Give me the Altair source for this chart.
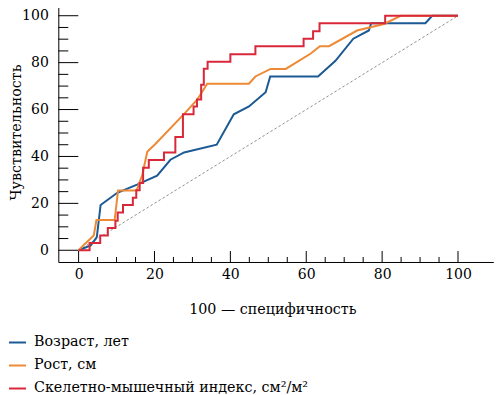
import altair as alt
import pandas as pd

# ---------------- data ----------------
series_names = ["Возраст, лет", "Рост, см", "Скелетно-мышечный индекс, см²/м²"]
series_colors = ["#1b5a94", "#ee8a35", "#d8283a"]

age_x = [0, 3.2, 4.8, 5.8, 10.2, 15.4, 20.7, 24.2, 27.8, 36.4, 40.9, 44.9, 49.3, 50.5,
         63.1, 67.7, 72.4, 76.5, 77.1, 91.4, 93.2, 100]
age_y = [0, 2.1, 5.6, 19.3, 24.5, 28.0, 31.8, 38.6, 41.7, 45.0, 58.0, 61.3, 67.4, 74.1,
         74.1, 80.8, 90.2, 93.7, 96.8, 96.8, 100, 100]

height_x = [0, 1.5, 4.0, 4.7, 9.5, 10.4, 15.3, 16.8, 18.1, 20.3, 28.2, 31.3, 33.9, 44.9,
            46.6, 50.6, 54.6, 61.2, 63.6, 66.0, 73.4, 80.5, 84.9, 100]
height_y = [0, 2.5, 6.3, 12.9, 12.9, 25.5, 25.5, 32.2, 42.0, 45.4, 58.8, 64.3, 71.0, 71.0,
            74.1, 77.3, 77.3, 83.9, 87.0, 87.0, 93.7, 96.5, 100, 100]

smi_x = [0, 2.9, 2.9, 5.7, 5.7, 7.7, 7.7, 9.7, 9.7, 10.3, 10.3, 11.7, 11.7, 14.3, 14.3,
         15.2, 15.2, 16.1, 16.1, 17.0, 17.0, 18.5, 18.5, 22.5, 22.5, 25.5, 25.5, 27.5,
         27.5, 30.3, 30.3, 31.2, 31.2, 32.3, 32.3, 33.0, 33.0, 34.0, 34.0, 40.0, 40.0,
         46.6, 46.6, 59.3, 59.3, 61.8, 61.8, 63.5, 63.5, 80.8, 80.8, 100]
smi_y = [0, 0, 3.1, 3.1, 6.3, 6.3, 9.5, 9.5, 12.6, 12.6, 16.1, 16.1, 19.3, 19.3, 22.4,
         22.4, 25.6, 25.6, 28.7, 28.7, 35.2, 35.2, 38.5, 38.5, 41.7, 41.7, 48.3, 48.3,
         58.0, 58.0, 61.3, 61.3, 64.3, 64.3, 70.6, 70.6, 77.4, 77.4, 80.4, 80.4, 83.6,
         83.6, 87.0, 87.0, 90.2, 90.2, 93.4, 93.4, 96.8, 96.8, 100, 100]

diag_x = [0, 100]
diag_y = [0, 100]

x_major = [0, 20, 40, 60, 80, 100]
x_minor = [5, 10, 15, 25, 30, 35, 45, 50, 55, 65, 70, 75, 85, 90, 95]
y_major = [0, 20, 40, 60, 80, 100]
y_minor = [5, 10, 15, 25, 30, 35, 45, 50, 55, 65, 70, 75, 85, 90, 95]

# ---------------- tables ----------------
rows = []
for name, xs, ys in zip(series_names, [age_x, height_x, smi_x], [age_y, height_y, smi_y]):
    for i, (xv, yv) in enumerate(zip(xs, ys)):
        rows.append({"series": name, "x": xv, "y": yv, "order": i})
df = pd.DataFrame(rows)
diag_df = pd.DataFrame({"x": diag_x, "y": diag_y})

FONT = "DejaVu Serif"
LBL = 14
TXT = 14.3
W, H = 435, 258
TOP = 4  # page y of the plot top

xscale = alt.Scale(domain=[-5.35, 109.3], nice=False, zero=False)
yscale = alt.Scale(domain=[-5, 105], nice=False, zero=False)

xaxis = alt.Axis(values=x_major, ticks=False, grid=False, domainColor="black",
                 labelFont=FONT, labelFontSize=LBL, labelColor="black", labelPadding=6,
                 labelFlush=False, titleFont=FONT, titleFontSize=TXT,
                 titleFontWeight="normal", titleColor="black", titleX=214,
                 titleY=52, titleBaseline="alphabetic", titleAlign="center")
yaxis = alt.Axis(values=y_major, ticks=False, grid=False, domainColor="black",
                 labelFont=FONT, labelFontSize=LBL, labelColor="black", labelPadding=10,
                 labelFlush=False, titleFont=FONT, titleFontSize=TXT,
                 titleFontWeight="normal", titleColor="black", titleX=-38,
                 titleY=128, titleAngle=270, titleBaseline="alphabetic",
                 titleAlign="center")

diag = alt.Chart(diag_df).mark_line(color="#8c8c8c", strokeWidth=1, strokeDash=[2.5, 2.2]).encode(
    x=alt.X("x:Q", scale=xscale, axis=xaxis, title="100 — специфичность"),
    y=alt.Y("y:Q", scale=yscale, axis=yaxis, title="Чувствительность"),
)

lines = alt.Chart(df).mark_line(strokeWidth=2).encode(
    x=alt.X("x:Q", scale=xscale, axis=xaxis, title="100 — специфичность"),
    y=alt.Y("y:Q", scale=yscale, axis=yaxis, title="Чувствительность"),
    color=alt.Color("series:N", scale=alt.Scale(domain=series_names, range=series_colors),
                    legend=alt.Legend(title=None, orient="none", legendX=-50.3,
                                      legendY=333 - TOP,
                                      symbolType="stroke", symbolSize=289,
                                      symbolStrokeWidth=2, labelFont=FONT,
                                      labelFontSize=TXT, labelColor="black",
                                      labelOffset=7, labelLimit=0, rowPadding=6,
                                      padding=0)),
    order="order:Q",
)

def xticks(vals, length):
    return alt.Chart(pd.DataFrame({"x": vals})).mark_rule(color="black", strokeWidth=1).encode(
        x=alt.X("x:Q", scale=xscale, axis=xaxis, title="100 — специфичность"),
        y=alt.value(H), y2=alt.value(H - length),
    )

def yticks(vals, length):
    return alt.Chart(pd.DataFrame({"y": vals})).mark_rule(color="black", strokeWidth=1).encode(
        y=alt.Y("y:Q", scale=yscale, axis=yaxis, title="Чувствительность"),
        x=alt.value(0), x2=alt.value(length),
    )

chart = alt.layer(
    xticks(x_major, 11), xticks(x_minor, 5),
    yticks(y_major, 20), yticks(y_minor, 10),
    diag, lines,
).properties(
    width=W, height=H,
    autosize=alt.AutoSizeParams(type="none"),
    padding={"left": 50.3, "top": TOP - 8, "right": 2, "bottom": 133},
).configure_view(stroke=None)

chart.save("out.html", embed_options={"renderer": "svg", "actions": False})
